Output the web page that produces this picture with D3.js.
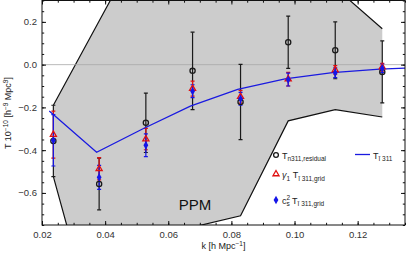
<!DOCTYPE html>
<html>
<head>
<meta charset="utf-8">
<script src="https://cdn.jsdelivr.net/npm/d3@7"></script>
<style>
body { margin: 0; background: #fff; }
svg text { font-family: "Liberation Sans", Arial, sans-serif; }
</style>
</head>
<body>
<div id="chart"></div>
<script>
// k bins of the measured points
var kPoints = [0.0236, 0.0381, 0.0529, 0.0677, 0.0829, 0.098, 0.1129, 0.1278];
// T_n311,residual
var residT = [-0.357, -0.558, -0.272, -0.029, -0.175, 0.105, 0.067, -0.034];
var residErr = [0.167, 0.121, 0.139, 0.181, 0.176, 0.122, 0.133, 0.145];
// gamma1 T_i311,grid
var gammaT = [-0.327, -0.487, -0.348, -0.112, -0.150, -0.068, -0.025, -0.012];
var gammaErr = [0.11, 0.052, 0.05, 0.035, 0.03, 0.032, 0.02, 0.018];
// cs^2 T_i311,grid
var csT = [-0.354, -0.527, -0.377, -0.124, -0.160, -0.070, -0.038, -0.017];
var csErr = [0.12, 0.056, 0.053, 0.03, 0.03, 0.03, 0.023, 0.02];
// T_i311 line
var lineK = [0.0223, 0.0373, 0.052, 0.067, 0.082, 0.097, 0.112, 0.127, 0.142];
var lineT = [-0.217, -0.41, -0.30, -0.194, -0.116, -0.067, -0.037, -0.021, -0.012];
// PPM band
var ppmUpper = [-0.19, 0.204, 0.606, 0.9, 0.9, 0.6, 0.36, 0.168];
var ppmLower = [-0.524, -1.30, -1.2, -0.76, -0.707, -0.263, -0.21, -0.245];

var xTicks = [0.02, 0.04, 0.06, 0.08, 0.10, 0.12];
var yTicks = [-0.6, -0.4, -0.2, 0.0, 0.2];

var width = 407, height = 259;
var plotLeft = 42, plotRight = 405, plotTop = 0.5, plotBottom = 225;

var svg = d3.select("#chart").append("svg")
    .attr("width", width)
    .attr("height", height);

var x = d3.scaleLinear().domain([0.02, 0.135]).range([plotLeft, plotRight]);
var y = d3.scaleLinear().domain([-0.75, 0.3]).range([plotBottom, plotTop]);

svg.append("clipPath").attr("id", "plotclip")
    .append("rect")
    .attr("x", plotLeft).attr("y", plotTop)
    .attr("width", plotRight - plotLeft).attr("height", plotBottom - plotTop);

var plot = svg.append("g").attr("clip-path", "url(#plotclip)");

// PPM shaded band
var band = kPoints.map(function(k, i){ return {k: k, hi: ppmUpper[i], lo: ppmLower[i]}; });
plot.append("path")
    .datum(band)
    .attr("fill", "#cccccc")
    .attr("d", d3.area().x(function(d){ return x(d.k); })
        .y0(function(d){ return y(d.lo); })
        .y1(function(d){ return y(d.hi); }));
plot.append("path")
    .datum(band)
    .attr("fill", "none").attr("stroke", "#111").attr("stroke-width", 1.2)
    .attr("d", d3.line().x(function(d){ return x(d.k); }).y(function(d){ return y(d.hi); }));
plot.append("path")
    .datum(band)
    .attr("fill", "none").attr("stroke", "#111").attr("stroke-width", 1.2)
    .attr("d", d3.line().x(function(d){ return x(d.k); }).y(function(d){ return y(d.lo); }));

// zero line
plot.append("line")
    .attr("x1", plotLeft).attr("x2", plotRight)
    .attr("y1", y(0)).attr("y2", y(0))
    .attr("stroke", "#a8a8a8").attr("stroke-width", 0.8);

plot.append("text")
    .attr("x", x(0.0685)).attr("y", 210)
    .style("text-anchor", "middle")
    .style("font-size", "15px")
    .style("fill", "#111")
    .text("PPM");

function errorBars(values, errs, color, cap){
    var g = plot.append("g");
    kPoints.forEach(function(k, i){
        var cx = x(k);
        g.append("line").attr("x1", cx).attr("x2", cx)
            .attr("y1", y(values[i] + errs[i])).attr("y2", y(values[i] - errs[i]))
            .attr("stroke", color).attr("stroke-width", 1.2);
        [values[i] + errs[i], values[i] - errs[i]].forEach(function(v){
            g.append("line").attr("x1", cx - cap).attr("x2", cx + cap)
                .attr("y1", y(v)).attr("y2", y(v))
                .attr("stroke", color).attr("stroke-width", 1.2);
        });
    });
}

errorBars(residT, residErr, "#1a1a1a", 2);
errorBars(gammaT, gammaErr, "#e01010", 2);
errorBars(csT, csErr, "#1515e8", 2);

// T_i311 line
plot.append("path")
    .datum(lineK.map(function(k, i){ return [k, lineT[i]]; }))
    .attr("fill", "none").attr("stroke", "#1a1ae0").attr("stroke-width", 1.3)
    .attr("d", d3.line().x(function(d){ return x(d[0]); }).y(function(d){ return y(d[1]); }));

var triangle = d3.symbol().type(d3.symbolTriangle).size(16);
var diamond = d3.symbol().type(d3.symbolDiamond).size(20);

kPoints.forEach(function(k, i){
    plot.append("circle")
        .attr("cx", x(k)).attr("cy", y(residT[i])).attr("r", 2.6)
        .attr("fill", "none").attr("stroke", "#1a1a1a").attr("stroke-width", 1.3);
});
kPoints.forEach(function(k, i){
    plot.append("path").attr("d", triangle)
        .attr("transform", "translate(" + x(k) + "," + y(gammaT[i]) + ")")
        .attr("fill", "none").attr("stroke", "#e01010").attr("stroke-width", 1.3);
});
kPoints.forEach(function(k, i){
    plot.append("path").attr("d", diamond)
        .attr("transform", "translate(" + x(k) + "," + y(csT[i]) + ")")
        .attr("fill", "#1515e8");
});

// axes with inward ticks
function minor(domain, step){
    return d3.range(Math.ceil(domain[0] / step - 1e-9), Math.floor(domain[1] / step + 1e-9) + 1)
        .map(function(n){ return n * step; });
}
var xMinor = minor(x.domain(), 0.005);
var yMinor = minor(y.domain(), 0.05);

function styleAxis(g){
    g.select(".domain").remove();
    g.selectAll("line").attr("stroke", "#111");
    g.selectAll("text").style("font-size", "9.5px").style("fill", "#333")
        .style("font-family", "Liberation Sans, Arial, sans-serif");
}

var fmtY = function(d){ return d3.format(".1f")(d).replace("-", "\u2212"); };

svg.append("g").attr("transform", "translate(0," + plotBottom + ")")
    .call(d3.axisBottom(x).tickValues(xTicks).tickSize(-4).tickPadding(6).tickFormat(d3.format(".2f")))
    .call(styleAxis);
svg.append("g").attr("transform", "translate(0," + plotBottom + ")")
    .call(d3.axisBottom(x).tickValues(xMinor).tickSize(-2.2).tickFormat(""))
    .call(styleAxis);
svg.append("g").attr("transform", "translate(0," + plotTop + ")")
    .call(d3.axisTop(x).tickValues(xTicks).tickSize(-4).tickFormat(""))
    .call(styleAxis);
svg.append("g").attr("transform", "translate(0," + plotTop + ")")
    .call(d3.axisTop(x).tickValues(xMinor).tickSize(-2.2).tickFormat(""))
    .call(styleAxis);

svg.append("g").attr("transform", "translate(" + plotLeft + ",0)")
    .call(d3.axisLeft(y).tickValues(yTicks).tickSize(-4).tickPadding(5).tickFormat(fmtY))
    .call(styleAxis);
svg.append("g").attr("transform", "translate(" + plotLeft + ",0)")
    .call(d3.axisLeft(y).tickValues(yMinor).tickSize(-2.2).tickFormat(""))
    .call(styleAxis);
svg.append("g").attr("transform", "translate(" + plotRight + ",0)")
    .call(d3.axisRight(y).tickValues(yTicks).tickSize(-4).tickFormat(""))
    .call(styleAxis);
svg.append("g").attr("transform", "translate(" + plotRight + ",0)")
    .call(d3.axisRight(y).tickValues(yMinor).tickSize(-2.2).tickFormat(""))
    .call(styleAxis);

svg.append("rect")
    .attr("x", plotLeft).attr("y", plotTop)
    .attr("width", plotRight - plotLeft).attr("height", plotBottom - plotTop)
    .attr("fill", "none").attr("stroke", "#111").attr("stroke-width", 1);

// axis titles
var xl = svg.append("text")
    .attr("x", (plotLeft + plotRight) / 2).attr("y", 249)
    .style("text-anchor", "middle").style("font-size", "9px").style("fill", "#222");
xl.append("tspan").text("k [h Mpc");
xl.append("tspan").attr("dy", -3.5).style("font-size", "6.5px").text("\u22121");
xl.append("tspan").attr("dy", 3.5).text("]");

var yl = svg.append("text")
    .attr("transform", "translate(11," + 113 + ") rotate(-90)")
    .style("text-anchor", "middle").style("font-size", "9px").style("fill", "#222");
yl.append("tspan").text("T 10");
yl.append("tspan").attr("dy", -3.5).style("font-size", "6.5px").text("\u221210");
yl.append("tspan").attr("dy", 3.5).text(" [h");
yl.append("tspan").attr("dy", -3.5).style("font-size", "6.5px").text("\u22129");
yl.append("tspan").attr("dy", 3.5).text(" Mpc");
yl.append("tspan").attr("dy", -3.5).style("font-size", "6.5px").text("9");
yl.append("tspan").attr("dy", 3.5).text("]");

// legend
var lg = svg.append("g").style("font-size", "9px").style("fill", "#222");
lg.append("circle").attr("cx", 276).attr("cy", 155).attr("r", 2.4)
    .attr("fill", "none").attr("stroke", "#1a1a1a").attr("stroke-width", 1.3);
var t1 = lg.append("text").attr("x", 282).attr("y", 158.5);
t1.append("tspan").text("T");
t1.append("tspan").attr("dy", 2.5).style("font-size", "6.5px").text("n311,residual");

lg.append("path").attr("d", triangle)
    .attr("transform", "translate(276,174)")
    .attr("fill", "none").attr("stroke", "#e01010").attr("stroke-width", 1.3);
var t2 = lg.append("text").attr("x", 282).attr("y", 178);
t2.append("tspan").style("font-style", "italic").text("\u03b3");
t2.append("tspan").attr("dy", 2.5).style("font-size", "6.5px").text("1");
t2.append("tspan").attr("dy", -2.5).text(" T");
t2.append("tspan").attr("dy", 2.5).style("font-size", "6.5px").text("\u012b 311,grid");

lg.append("path").attr("d", diamond)
    .attr("transform", "translate(276,200)")
    .attr("fill", "#1515e8");
var t3 = lg.append("text").attr("x", 282).attr("y", 203.5);
t3.append("tspan").text("c");
t3.append("tspan").attr("dy", -3.5).style("font-size", "6.5px").text("2");
t3.append("tspan").attr("dx", -3.6).attr("dy", 6).style("font-size", "6.5px").text("s");
t3.append("tspan").attr("dy", -2.5).text(" T");
t3.append("tspan").attr("dy", 2.5).style("font-size", "6.5px").text("\u012b 311,grid");

lg.append("line").attr("x1", 355).attr("x2", 370).attr("y1", 154.5).attr("y2", 154.5)
    .attr("stroke", "#1a1ae0").attr("stroke-width", 1.3);
var t4 = lg.append("text").attr("x", 373).attr("y", 158.5);
t4.append("tspan").text("T");
t4.append("tspan").attr("dy", 2.5).style("font-size", "6.5px").text("\u012b 311");
</script>
</body>
</html>
